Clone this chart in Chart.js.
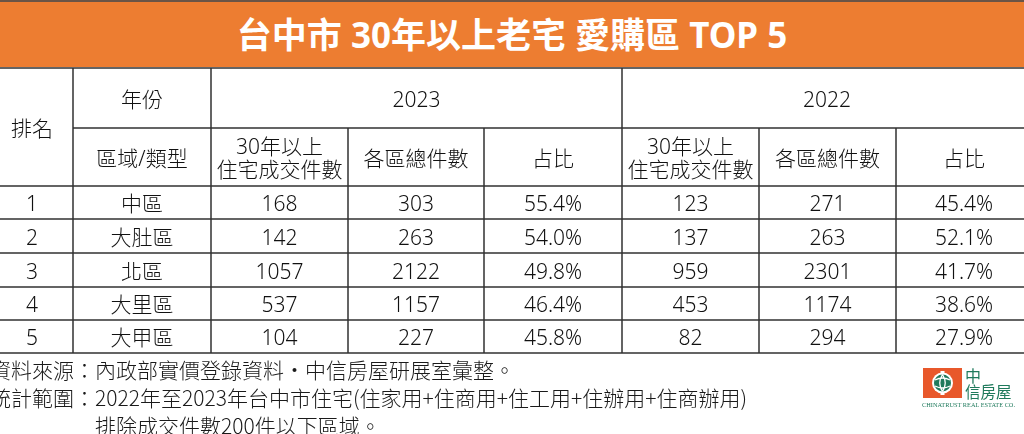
<!DOCTYPE html>
<html>
<head>
<meta charset="utf-8">
<script src="https://cdn.jsdelivr.net/npm/chart.js@4.4.1/dist/chart.umd.min.js"></script>
<style>
  html,body{margin:0;padding:0;background:#fff;width:1024px;height:434px;overflow:hidden;}
  #wrap{position:relative;width:1024px;height:434px;}
  #topline{position:absolute;left:0;top:0;width:1024px;height:2px;background:#6a5446;}
  #title{position:absolute;left:0;top:2px;width:1024px;height:65px;background:#ED7D31;color:#fff;
         font:700 35px "Noto Sans","Noto Sans CJK TC",sans-serif;text-align:center;line-height:65px;white-space:nowrap;}
  #chart{position:absolute;left:0;top:0;}
  .note{position:absolute;font:300 21px "Liberation Sans Narrow","Noto Sans CJK TC",sans-serif;color:#1a1a1a;white-space:nowrap;line-height:28px;}
  #logo{position:absolute;left:918px;top:362px;}
</style>
</head>
<body>
<div id="wrap">
  <div id="topline"></div>
  <div id="title">台中市 30年以上老宅 愛購區 TOP 5</div>
  <canvas id="chart" width="1024" height="434"></canvas>
  <div class="note" style="left:-10px;top:355px;">資料來源：內政部實價登錄資料‧中信房屋研展室彙整。</div>
  <div class="note" style="left:-10px;top:383px;">統計範圍：2022年至2023年台中市住宅(住家用+住商用+住工用+住辦用+住商辦用)</div>
  <div class="note" style="left:95px;top:411px;">排除成交件數200件以下區域。</div>
  <svg id="logo" width="104" height="50" viewBox="0 0 104 50">
    <rect x="5" y="6" width="39" height="30" fill="#E8582B"/>
    <rect x="22.5" y="9" width="4" height="24" fill="#fff"/>
    <circle cx="24.5" cy="21" r="10.5" fill="#fff"/>
    <circle cx="24.5" cy="21" r="8.5" fill="#1F7A5C"/>
    <path d="M17 18 Q24.5 14 32 18 M17 24 Q24.5 28 32 24 M24.5 12.5 Q19 21 24.5 29.5 M24.5 12.5 Q30 21 24.5 29.5" stroke="#fff" stroke-width="1.3" fill="none"/>
    <text x="47" y="20" font-family="Noto Sans CJK TC" font-size="16" fill="#1F7A5C">中</text>
    <text x="47" y="36" font-family="Noto Sans CJK TC" font-size="15.5" fill="#1F7A5C">信房屋</text>
    <text x="4" y="45" font-family="Liberation Serif" font-size="7" fill="#1F7A5C" textLength="93" lengthAdjust="spacingAndGlyphs">CHINATRUST REAL ESTATE CO.</text>
  </svg>
</div>
<script>
// ---------------- DATA ----------------
const ranks      = ['1', '2', '3', '4', '5'];
const districts  = ['中區', '大肚區', '北區', '大里區', '大甲區'];
const years      = ['2023', '2022'];
const subHeaders = ['30年以上\n住宅成交件數', '各區總件數', '占比'];
const old2023    = [168, 142, 1057, 537, 104];
const total2023  = [303, 263, 2122, 1157, 227];
const share2023  = [55.4, 54.0, 49.8, 46.4, 45.8];
const old2022    = [123, 137, 959, 453, 82];
const total2022  = [271, 263, 2301, 1174, 294];
const share2022  = [45.4, 52.1, 41.7, 38.6, 27.9];
const rankHeader = '排名';
const yearHeader = '年份';
const typeHeader = '區域/類型';

// ---------------- LAYOUT (table geometry in scale units) ----------------
const colEdges = [-9, 73, 211, 348, 484, 622, 759, 896, 1032];
const rowEdges = [68, 128, 186, 219, 253, 287, 320, 353];
const GRID = '#303030';
const TEXT = '#111';
const FONT = '300 21px "Noto Sans","Noto Sans CJK TC",sans-serif';

const pct = v => v.toFixed(1) + '%';
const cx = (c0, c1) => (colEdges[c0] + colEdges[(c1 === undefined ? c0 : c1) + 1]) / 2;
const cy = (r0, r1) => (rowEdges[r0] + rowEdges[(r1 === undefined ? r0 : r1) + 1]) / 2;

// header cells
const headerCells = [
  {t: rankHeader, x: cx(0), y: cy(0, 1)},
  {t: yearHeader, x: cx(1), y: cy(0)},
  {t: years[0],   x: cx(2, 4), y: cy(0)},
  {t: years[1],   x: cx(5, 7), y: cy(0)},
  {t: typeHeader, x: cx(1), y: cy(1)},
];
subHeaders.forEach((h, i) => headerCells.push({t: h, x: cx(2 + i), y: cy(1)}));
subHeaders.forEach((h, i) => headerCells.push({t: h, x: cx(5 + i), y: cy(1)}));

// body columns
const bodyColumns = [
  ranks, districts,
  old2023.map(String), total2023.map(String), share2023.map(pct),
  old2022.map(String), total2022.map(String), share2022.map(pct)
];

const datasets = [{
  label: 'header',
  data: headerCells.map(h => ({x: h.x, y: h.y})),
  texts: headerCells.map(h => h.t)
}];
bodyColumns.forEach((col, c) => {
  datasets.push({
    label: 'col' + c,
    data: col.map((v, r) => ({x: cx(c), y: cy(r + 2)})),
    texts: col
  });
});

// grid lines: [value, from, to]
const hLines = [
  [rowEdges[0], colEdges[0], colEdges[8]],
  [rowEdges[1], colEdges[1], colEdges[8]],
  ...rowEdges.slice(2).map(r => [r, colEdges[0], colEdges[8]])
];
const vLines = [
  [colEdges[1], rowEdges[0], rowEdges[7]],
  [colEdges[2], rowEdges[0], rowEdges[7]],
  [colEdges[3], rowEdges[1], rowEdges[7]],
  [colEdges[4], rowEdges[1], rowEdges[7]],
  [colEdges[5], rowEdges[0], rowEdges[7]],
  [colEdges[6], rowEdges[1], rowEdges[7]],
  [colEdges[7], rowEdges[1], rowEdges[7]],
];

const tablePlugin = {
  id: 'tableDraw',
  afterDatasetsDraw(chart) {
    const {ctx, scales: {x, y}} = chart;
    ctx.save();
    ctx.strokeStyle = GRID;
    ctx.lineWidth = 1.5;
    hLines.forEach(([v, a, b]) => {
      const py = y.getPixelForValue(v);
      ctx.beginPath();
      ctx.moveTo(x.getPixelForValue(a), py);
      ctx.lineTo(x.getPixelForValue(b), py);
      ctx.stroke();
    });
    vLines.forEach(([v, a, b]) => {
      const px = x.getPixelForValue(v);
      ctx.beginPath();
      ctx.moveTo(px, y.getPixelForValue(a));
      ctx.lineTo(px, y.getPixelForValue(b));
      ctx.stroke();
    });
    ctx.fillStyle = TEXT;
    ctx.font = FONT;
    ctx.textAlign = 'center';
    ctx.textBaseline = 'alphabetic';
    chart.data.datasets.forEach((ds, di) => {
      const meta = chart.getDatasetMeta(di);
      meta.data.forEach((pt, i) => {
        const lines = String(ds.texts[i]).split('\n');
        const lh = 23;
        const top = pt.y - (lines.length - 1) * lh / 2;
        lines.forEach((ln, k) => ctx.fillText(ln, pt.x, top + k * lh + 8.5));
      });
    });
    ctx.restore();
  }
};

new Chart(document.getElementById('chart'), {
  type: 'scatter',
  data: {datasets},
  options: {
    responsive: false,
    animation: false,
    events: [],
    layout: {padding: 0},
    elements: {point: {radius: 0, hoverRadius: 0}},
    plugins: {legend: {display: false}, tooltip: {enabled: false}, title: {display: false}},
    scales: {
      x: {type: 'linear', min: 0, max: 1024, display: false},
      y: {type: 'linear', min: 0, max: 434, reverse: true, display: false}
    }
  },
  plugins: [tablePlugin]
});
</script>
</body>
</html>
